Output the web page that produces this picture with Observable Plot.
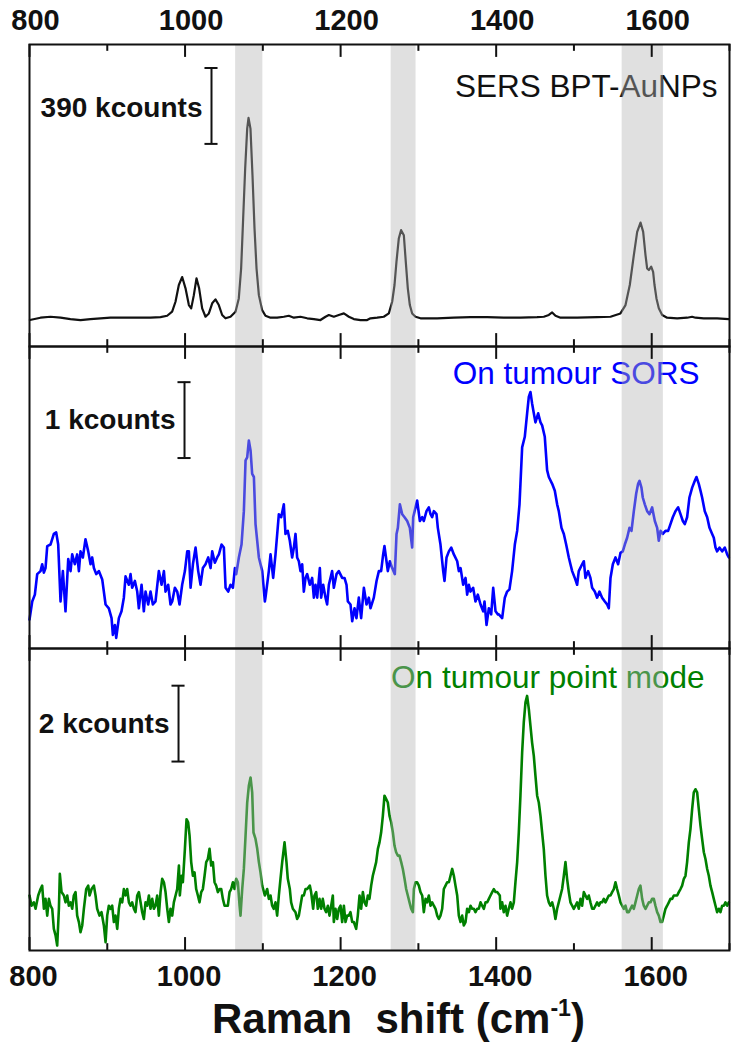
<!DOCTYPE html>
<html>
<head>
<meta charset="utf-8">
<script src="https://cdn.jsdelivr.net/npm/d3@7"></script>
<script src="https://cdn.jsdelivr.net/npm/@observablehq/plot@0.6"></script>
<style>
  body { margin: 0; background: #fff; }
  #chart { width: 739px; }
  #xtitle {
    width: 739px; box-sizing: border-box; padding-left: 58px;
    font-family: "Liberation Sans", Arial, sans-serif; font-weight: bold;
    font-size: 42px; line-height: 46px; height: 50px; text-align: center;
    white-space: pre; color: #111;
  }
  #xtitle .sup { font-size: 0.55em; position: relative; top: -0.75em; }
</style>
</head>
<body>
<div id="chart"></div>
<div id="xtitle">Raman  shift (cm<span class="sup">-1</span>)</div>
<script>
// ---- data ----
const panels = ["SERS BPT-AuNPs", "On tumour SORS", "On tumour point mode"];
const panelColors = ["#111111", "#0000ff", "#008000"];
const scaleBarKcounts = [390, 1, 2];
const bands = [[1065, 1100], [1265, 1297], [1562, 1615]];
const majorTicks = [800, 1000, 1200, 1400, 1600];
const minorTicks = [900, 1100, 1300, 1500, 1700];

// [Raman shift (cm-1), intensity (kcounts, offset)]
const bptSpectrum = [[800.5,136],[814.1,148],[827.0,153],[839.9,148],[852.7,141],[865.6,136],[878.4,141],[891.3,145],[904.1,148],[917.0,148],[929.9,148],[942.7,148],[955.6,148],[968.4,151],[977.0,158],[983.4,179],[987.7,230],[992.0,316],[996.3,357],[1000.6,299],[1004.9,213],[1007.9,196],[1011.3,264],[1014.7,350],[1018.1,299],[1022.0,196],[1026.3,153],[1030.6,170],[1034.9,222],[1039.1,242],[1043.4,213],[1047.7,162],[1052.0,145],[1058.4,153],[1064.9,179],[1069.1,247],[1072.1,401],[1074.7,658],[1077.3,915],[1079.9,1120],[1081.6,1175],[1084.1,1120],[1086.7,880],[1089.3,607],[1091.9,401],[1094.9,264],[1099.1,187],[1103.4,158],[1109.9,148],[1118.4,148],[1127.0,153],[1133.4,158],[1139.9,148],[1148.4,153],[1157.0,145],[1165.6,141],[1174.1,136],[1180.6,153],[1184.9,162],[1191.3,153],[1197.7,162],[1204.2,170],[1210.6,153],[1217.0,141],[1225.6,136],[1234.1,136],[1238.4,145],[1247.0,148],[1255.5,153],[1262.0,170],[1266.3,230],[1269.3,316],[1271.8,435],[1274.8,555],[1277.8,598],[1281.3,572],[1283.8,435],[1286.4,299],[1289.0,213],[1292.0,170],[1296.3,153],[1302.7,145],[1324.1,145],[1345.5,148],[1367.0,151],[1388.4,151],[1409.8,148],[1431.3,148],[1452.7,151],[1461.3,153],[1467.7,162],[1472.0,175],[1476.3,158],[1482.7,148],[1504.1,148],[1529.8,151],[1547.0,153],[1559.8,170],[1566.3,213],[1571.8,316],[1577.0,470],[1581.3,589],[1585.6,637],[1589.0,589],[1592.0,470],[1594.1,401],[1596.3,393],[1599.3,410],[1601.8,384],[1603.6,316],[1606.1,247],[1609.1,196],[1613.4,162],[1619.8,148],[1632.7,145],[1645.5,148],[1651.9,153],[1656.3,148],[1666.9,145],[1684.1,145],[1699.1,141]];

const sorsSpectrum = [[800.0,0.38],[803.5,0.62],[806.9,0.71],[809.9,0.98],[814.2,1.02],[816.3,1.11],[818.5,1.00],[820.6,1.06],[822.8,1.35],[827.0,1.37],[831.3,1.51],[834.3,1.53],[836.9,1.37],[839.9,0.62],[842.9,1.02],[846.3,0.49],[849.8,1.18],[852.8,1.02],[854.9,1.24],[858.3,1.11],[861.3,1.24],[863.5,1.02],[865.6,1.28],[868.6,1.20],[872.0,1.44],[875.5,1.28],[878.5,1.11],[880.6,1.20],[882.8,1.06],[885.8,0.98],[889.2,1.02],[893.5,0.91],[897.8,0.58],[902.0,0.53],[905.5,0.40],[907.2,0.18],[909.8,0.31],[911.5,0.14],[914.9,0.40],[918.3,0.49],[921.3,0.67],[923.5,0.95],[927.7,0.84],[929.9,0.98],[932.0,0.80],[935.5,0.89],[938.5,0.75],[940.6,0.53],[944.1,0.84],[947.0,0.49],[949.2,0.75],[952.6,0.58],[955.6,0.75],[958.6,0.58],[962.0,0.62],[966.3,1.02],[969.8,0.84],[972.8,1.02],[974.9,0.75],[978.3,0.84],[981.3,0.58],[983.5,0.62],[986.9,0.80],[989.9,0.75],[992.9,0.58],[996.3,0.84],[999.8,1.02],[1002.8,1.28],[1004.9,1.28],[1007.1,0.80],[1010.1,1.11],[1013.5,1.33],[1016.9,1.02],[1019.9,0.84],[1022.9,1.06],[1026.3,1.11],[1029.8,1.20],[1032.8,1.06],[1034.9,1.28],[1038.3,1.13],[1041.3,1.20],[1043.5,1.24],[1046.9,1.37],[1049.9,1.33],[1052.1,0.80],[1055.5,0.75],[1058.5,0.84],[1061.5,0.80],[1064.1,1.06],[1065.8,0.98],[1069.2,1.20],[1072.6,1.37],[1075.6,1.81],[1077.8,2.48],[1079.9,2.52],[1082.0,2.74],[1084.2,2.61],[1086.3,2.30],[1088.5,2.26],[1090.6,1.64],[1094.9,1.20],[1099.2,1.02],[1102.6,0.62],
[1103.4,0.67],[1107.7,1.02],[1109.9,1.24],[1113.3,0.93],[1116.3,1.24],[1120.6,1.77],[1123.6,1.73],[1127.0,1.90],[1129.1,1.51],[1132.1,1.55],[1134.7,1.42],[1137.7,1.20],[1139.9,1.33],[1142.0,1.51],[1144.1,1.20],[1146.3,1.15],[1148.4,1.02],[1150.6,1.11],[1152.7,0.75],[1154.9,0.93],[1157.0,0.98],[1160.4,0.84],[1163.4,0.93],[1165.6,0.67],[1167.7,0.84],[1169.9,0.67],[1173.3,1.06],[1175.0,0.67],[1177.6,0.84],[1180.6,0.67],[1182.7,0.58],[1184.9,0.84],[1189.1,1.02],[1191.3,0.80],[1194.7,0.98],[1197.7,1.02],[1202.0,0.93],[1205.0,0.93],[1207.6,0.84],[1209.3,0.62],[1212.7,0.58],[1214.9,0.36],[1217.9,0.53],[1220.4,0.40],[1223.4,0.67],[1226.4,0.40],[1229.9,0.80],[1233.3,0.58],[1236.3,0.67],[1238.4,0.53],[1242.7,0.67],[1246.2,0.89],[1249.2,1.02],[1252.1,1.02],[1254.7,1.24],[1256.4,1.35],[1259.0,1.15],[1260.7,1.02],[1263.3,1.15],[1266.3,1.06],[1269.7,0.98],[1271.9,1.51],[1273.6,1.59],[1276.2,1.90],[1279.2,1.77],[1282.2,1.73],[1285.6,1.68],[1289.0,1.59],[1292.0,1.33],[1293.3,1.73],[1296.3,1.86],[1298.4,1.95],[1301.9,1.68],[1304.9,1.73],[1307.0,1.68],[1310.4,1.81],[1313.4,1.86],[1315.6,1.77],[1317.7,1.73],[1319.9,1.81],[1323.3,1.77],[1325.0,1.59],[1328.4,1.37],[1331.9,1.02],[1333.6,0.89],[1336.2,1.20],[1339.2,1.28],[1342.2,1.33],[1345.6,1.24],[1349.9,1.15],[1352.0,1.02],[1354.2,1.06],[1357.6,0.84],[1360.6,0.93],[1362.7,0.71],[1364.9,0.84],[1367.0,0.75],[1370.4,0.80],[1373.4,0.62],[1376.4,0.71],[1379.9,0.58],[1383.3,0.49],[1385.0,0.62],[1387.6,0.31],[1390.6,0.53],[1393.6,0.45],[1396.2,0.80],[1399.2,0.49],[1402.2,0.45],
[1403.4,0.45],[1407.7,0.40],[1411.1,0.67],[1414.1,0.75],[1417.1,0.78],[1420.5,1.02],[1424.0,1.37],[1427.0,1.55],[1430.0,1.90],[1433.4,2.65],[1436.8,2.79],[1439.8,3.10],[1442.0,3.32],[1444.1,3.38],[1446.2,3.23],[1448.4,3.10],[1450.5,2.98],[1454.0,3.10],[1457.0,2.98],[1459.1,2.94],[1462.5,2.79],[1465.5,2.35],[1467.7,2.26],[1472.0,2.17],[1475.4,2.08],[1478.4,1.90],[1480.5,1.81],[1484.0,1.59],[1487.0,1.51],[1490.0,1.37],[1493.4,1.20],[1495.5,1.11],[1497.7,1.02],[1501.1,0.93],[1504.1,0.84],[1506.2,1.02],[1510.5,1.11],[1512.7,1.15],[1514.8,0.93],[1518.2,1.02],[1521.2,0.93],[1523.4,0.80],[1526.8,0.75],[1529.8,0.67],[1532.8,0.75],[1536.2,0.67],[1539.7,0.62],[1542.7,0.58],[1544.8,0.53],[1547.0,0.93],[1550.0,1.11],[1553.4,1.20],[1556.8,1.11],[1559.8,1.26],[1562.8,1.28],[1565.4,1.37],[1568.4,1.46],[1571.4,1.59],[1574.0,1.55],[1577.0,1.81],[1580.0,2.04],[1582.5,2.17],[1584.3,2.21],[1586.8,2.12],[1588.5,1.99],[1591.1,1.90],[1594.1,1.81],[1597.1,1.77],[1600.5,1.86],[1604.0,1.68],[1607.0,1.59],[1609.1,1.42],[1611.3,1.55],[1614.3,1.51],[1617.7,1.55],[1621.1,1.55],[1624.1,1.64],[1627.1,1.73],[1630.5,1.81],[1634.0,1.86],[1637.0,1.77],[1640.0,1.68],[1642.5,1.64],[1645.5,1.73],[1648.5,1.99],[1652.0,2.12],[1655.4,2.21],[1657.5,2.26],[1660.5,2.17],[1662.7,2.08],[1664.8,1.99],[1668.2,1.81],[1671.3,1.73],[1674.3,1.59],[1677.7,1.51],[1679.8,1.46],[1682.0,1.33],[1684.1,1.28],[1687.1,1.33],[1690.5,1.28],[1694.0,1.33],[1697.0,1.24],[1699.1,1.20]];

const pointSpectrum = [[800.0,1.45],[802.6,1.18],[805.6,1.27],[807.8,1.10],[811.2,1.45],[814.2,1.62],[816.3,1.71],[818.5,1.10],[820.6,1.36],[822.8,0.92],[824.9,1.36],[827.0,1.18],[829.2,1.10],[831.3,0.57],[833.5,0.40],[835.6,0.13],[837.8,1.10],[839.0,2.02],[841.2,1.54],[844.2,1.45],[846.3,1.27],[848.5,1.45],[850.6,1.18],[852.8,1.27],[854.9,1.10],[857.0,1.45],[859.2,1.54],[861.3,0.92],[863.5,0.75],[865.6,0.48],[867.8,0.66],[869.9,1.10],[872.9,1.62],[875.5,1.71],[877.2,1.45],[879.8,1.62],[882.8,1.71],[884.9,1.45],[887.0,1.10],[890.0,0.92],[892.6,1.01],[895.6,0.66],[897.8,0.22],[899.9,0.92],[902.0,1.18],[904.2,1.10],[906.3,1.18],[908.5,0.75],[910.6,0.92],[912.8,0.57],[914.9,1.10],[917.0,1.36],[919.2,1.27],[921.3,1.62],[923.5,1.45],[925.6,1.62],[927.8,1.27],[929.9,1.18],[932.0,1.27],[934.2,1.10],[936.3,1.01],[938.5,1.45],[940.6,1.54],[942.8,1.27],[944.9,1.01],[947.0,0.83],[949.2,1.27],[951.3,1.18],[953.5,1.45],[955.6,1.10],[957.8,1.36],[959.9,1.10],[962.0,1.18],[964.2,1.45],[966.3,0.92],[968.5,1.54],[970.6,1.89],[972.8,1.80],[974.9,1.54],[977.1,1.10],[979.2,0.75],[981.3,1.10],[983.5,0.92],[985.6,1.27],[987.8,1.45],[989.9,1.62],[992.1,2.24],[993.3,1.45],[995.5,1.97],[997.2,1.80],[999.8,2.68],[1001.9,3.46],[1004.0,3.38],[1005.8,3.03],[1007.9,2.33],[1010.1,1.97],[1012.2,2.06],[1014.3,1.62],[1016.5,1.45],[1018.6,1.27],[1020.8,1.54],[1022.9,1.62],[1025.1,1.97],[1027.2,2.33],[1029.3,2.41],[1031.5,2.68],[1033.6,2.24],[1035.8,2.33],[1037.9,1.80],[1040.0,1.71],[1042.2,1.54],[1044.3,1.62],[1046.5,1.62],[1048.6,1.36],[1050.8,1.18],[1052.9,1.18],[1055.0,1.18],[1057.2,1.54],[1059.3,1.62],[1061.5,1.80],[1063.6,1.62],[1065.8,1.89],[1067.9,1.80],[1070.1,1.18],[1071.3,0.92],[1073.5,1.62],[1075.6,2.15],[1077.8,3.03],[1079.9,3.90],[1082.0,4.34],[1084.2,4.56],[1086.3,4.17],[1088.0,3.11],[1090.6,2.94],[1092.8,2.68],[1094.9,2.33],[1097.0,2.06],[1099.2,1.71],[1102.6,1.45],
[1105.6,1.62],[1107.7,1.36],[1109.9,1.45],[1112.0,1.18],[1114.1,1.10],[1116.3,1.27],[1118.4,0.92],[1120.6,1.45],[1122.7,1.89],[1124.9,2.33],[1127.9,2.85],[1130.4,2.33],[1132.1,1.89],[1134.7,1.62],[1136.4,1.27],[1138.6,1.10],[1142.0,1.01],[1144.1,0.83],[1146.3,0.92],[1148.4,1.18],[1150.6,1.45],[1152.7,1.45],[1154.9,1.62],[1157.0,1.62],[1160.4,1.71],[1162.1,1.54],[1164.7,1.10],[1166.4,1.45],[1168.6,1.54],[1170.7,1.10],[1172.9,1.36],[1175.0,1.10],[1177.1,1.36],[1179.3,1.10],[1181.4,1.01],[1183.6,1.18],[1185.7,0.92],[1187.9,1.18],[1190.0,1.45],[1191.3,0.75],[1193.4,1.10],[1195.6,0.83],[1197.7,1.10],[1199.9,1.18],[1202.0,0.75],[1204.2,1.18],[1206.3,0.75],[1208.4,0.92],[1210.6,0.92],[1212.7,1.01],[1214.9,0.75],[1217.0,0.75],[1220.0,0.57],[1222.1,0.92],[1224.3,1.45],[1226.4,1.10],[1228.6,1.54],[1230.7,1.27],[1232.9,1.18],[1235.0,1.45],[1237.1,1.36],[1239.3,1.71],[1241.4,1.97],[1243.6,2.15],[1245.7,2.33],[1247.9,2.68],[1250.0,2.85],[1252.1,3.11],[1254.3,3.55],[1256.4,4.08],[1258.6,3.99],[1260.7,3.90],[1262.9,3.55],[1265.0,3.38],[1267.2,3.11],[1269.3,2.76],[1271.4,2.59],[1273.6,2.50],[1275.7,2.50],[1277.9,2.33],[1280.0,2.15],[1282.2,1.89],[1284.3,1.62],[1286.4,1.45],[1288.6,1.27],[1290.7,1.10],[1292.9,1.01],[1294.2,1.62],[1296.3,1.80],[1298.4,1.80],[1300.6,1.71],[1302.7,1.54],[1304.9,1.45],[1307.0,1.01],[1309.2,1.36],[1311.3,1.27],[1313.4,1.45],[1315.6,1.18],[1317.7,1.27],[1319.9,1.18],[1322.0,1.10],[1324.2,0.92],[1326.3,0.83],[1328.4,0.92],[1330.6,1.10],[1332.7,1.62],[1334.9,1.71],[1337.0,1.80],[1339.2,1.80],[1341.3,1.97],[1343.5,2.15],[1345.6,1.97],[1347.7,1.71],[1349.9,1.45],[1352.0,0.92],[1354.2,0.75],[1356.3,0.92],[1358.4,0.66],[1360.6,0.75],[1362.7,1.10],[1364.9,1.01],[1367.0,1.18],[1369.2,1.10],[1371.3,1.10],[1373.4,1.01],[1375.6,1.10],[1377.7,1.10],[1379.9,1.27],[1382.0,1.18],[1384.2,1.10],[1386.3,1.27],[1388.4,1.27],[1390.6,1.36],[1392.7,1.45],[1394.9,1.54],[1397.0,1.62],[1399.2,1.54],[1401.3,1.54],[1404.7,1.45],
[1405.5,1.10],[1407.7,1.27],[1409.8,1.01],[1412.0,1.18],[1414.1,0.92],[1416.2,1.10],[1418.4,1.27],[1420.5,1.10],[1422.7,1.27],[1424.8,1.80],[1427.0,2.33],[1429.1,3.11],[1431.2,4.08],[1433.4,5.22],[1435.5,6.01],[1437.7,6.54],[1439.8,6.71],[1442.0,6.36],[1444.1,5.92],[1446.2,5.48],[1448.4,5.13],[1450.5,4.61],[1452.7,4.08],[1454.8,3.90],[1457.0,3.55],[1459.1,3.11],[1461.2,2.68],[1463.4,1.97],[1465.5,1.45],[1467.7,1.27],[1469.8,1.18],[1472.0,1.27],[1474.1,1.10],[1476.2,0.83],[1478.4,1.10],[1480.5,1.27],[1482.7,1.45],[1484.8,1.62],[1487.0,1.97],[1489.1,2.33],[1491.2,1.89],[1493.4,1.54],[1495.5,1.27],[1497.7,1.18],[1499.8,1.10],[1502.0,1.18],[1504.1,1.27],[1506.2,1.10],[1508.4,1.36],[1510.5,1.18],[1512.7,1.54],[1514.8,1.45],[1517.0,1.36],[1519.1,1.45],[1521.2,1.27],[1523.4,1.10],[1525.5,1.10],[1527.7,1.18],[1529.8,1.27],[1532.0,1.18],[1534.1,1.27],[1536.2,1.27],[1538.4,1.36],[1540.5,1.27],[1542.7,1.36],[1544.8,1.45],[1547.0,1.45],[1549.1,1.54],[1551.3,1.62],[1553.4,1.80],[1555.5,1.62],[1557.7,1.45],[1559.8,1.27],[1562.0,1.18],[1564.1,1.10],[1566.3,1.18],[1568.4,1.01],[1570.5,1.01],[1572.7,1.10],[1574.8,1.18],[1577.0,1.10],[1579.1,1.27],[1581.3,1.45],[1583.4,1.62],[1585.5,1.71],[1587.7,1.36],[1589.8,1.18],[1592.0,1.10],[1594.1,1.18],[1596.3,1.27],[1598.4,1.27],[1600.5,1.36],[1602.7,1.36],[1604.8,1.18],[1607.0,1.01],[1609.1,0.92],[1611.3,0.75],[1613.4,0.75],[1615.5,0.92],[1617.7,1.10],[1619.8,1.18],[1622.0,1.27],[1624.1,1.36],[1626.3,1.36],[1628.4,1.45],[1630.5,1.45],[1632.7,1.45],[1634.8,1.54],[1637.0,1.62],[1639.1,1.71],[1641.3,1.89],[1643.4,1.97],[1645.5,2.33],[1647.7,2.85],[1649.8,3.20],[1652.0,3.73],[1654.1,4.17],[1656.3,4.25],[1658.4,4.17],[1660.5,3.73],[1662.7,3.29],[1664.8,2.94],[1667.0,2.59],[1669.1,2.41],[1671.3,2.15],[1673.4,1.97],[1675.5,1.71],[1677.7,1.54],[1679.8,1.36],[1682.0,1.18],[1684.1,1.01],[1686.3,1.10],[1688.4,1.01],[1690.5,1.18],[1692.7,1.18],[1694.8,1.27],[1697.0,1.18],[1699.1,1.27]];

// ---- build table: intensity expressed in units of each panel's scale bar ----
const spectra = [bptSpectrum, sorsSpectrum, pointSpectrum];
const lineWidths = [2.2, 2.6, 2.6];
const rows = [];
spectra.forEach((s, i) => s.forEach(([shift, kc]) => rows.push({panel: panels[i], shift, rel: kc / scaleBarKcounts[i]})));

// ---- annotation placement (data units) ----
const yMax = 3.98;
const titleAnno = [
  {panel: panels[0], x: 1684.6, y: 3.29},
  {panel: panels[1], x: 1661.4, y: 3.48},
  {panel: panels[2], x: 1667.9, y: 3.46}
];
const barAnno = [
  {panel: panels[0], x: 1034.0, y0: 2.67, lx: 1022.4, ly: 3.03},
  {panel: panels[1], x: 999.3, y0: 2.51, lx: 987.7, ly: 2.89},
  {panel: panels[2], x: 991.6, y0: 2.49, lx: 980.0, ly: 2.86}
].map((d, i) => ({...d, label: `${scaleBarKcounts[i]} kcounts`}));
const capRows = barAnno.flatMap(d => [{...d, y: d.y0}, {...d, y: d.y0 + 1}]);

const ink = "#111";
const lineMarks = panels.map((p, i) => Plot.line(rows.filter(r => r.panel === p), {x: "shift", y: "rel", fy: "panel", stroke: "panel", strokeWidth: lineWidths[i], strokeLinejoin: "round"}));

const chart = Plot.plot({
  width: 739,
  height: 996,
  marginTop: 43,
  marginBottom: 46,
  marginLeft: 29,
  marginRight: 10,
  style: {fontFamily: '"Liberation Sans", Arial, sans-serif', fontWeight: "bold", fontSize: "29px", color: ink, background: "white"},
  x: {domain: [800, 1700], axis: null},
  y: {domain: [0, yMax], axis: null},
  fy: {domain: panels, axis: null, padding: 0},
  color: {domain: panels, range: panelColors},
  marks: [
    ...lineMarks,
    Plot.text(titleAnno, {x: "x", y: "y", fy: "panel", text: "panel", fill: "panel", textAnchor: "end", lineAnchor: "bottom", fontSize: 31.5, fontWeight: "normal"}),
    Plot.rect(bands, {x1: d => d[0], x2: d => d[1], y1: 0, y2: yMax, fill: "rgb(180,180,180)", fillOpacity: 0.41}),
    Plot.frame({stroke: ink, strokeWidth: 2}),
    Plot.ruleX(majorTicks, {x: d => d, y1: yMax, y2: yMax - 0.17, stroke: ink, strokeWidth: 2}),
    Plot.ruleX(majorTicks, {x: d => d, y1: 0, y2: 0.17, stroke: ink, strokeWidth: 2}),
    Plot.ruleX(minorTicks, {x: d => d, y1: yMax, y2: yMax - 0.09, stroke: ink, strokeWidth: 2}),
    Plot.ruleX(minorTicks, {x: d => d, y1: 0, y2: 0.09, stroke: ink, strokeWidth: 2}),
    Plot.ruleX(barAnno, {x: "x", y1: "y0", y2: d => d.y0 + 1, fy: "panel", stroke: ink, strokeWidth: 2}),
    Plot.ruleY(capRows, {x1: d => d.x - 8.4, x2: d => d.x + 8.4, y: "y", fy: "panel", stroke: ink, strokeWidth: 2}),
    Plot.text(barAnno, {x: "lx", y: "ly", fy: "panel", text: "label", textAnchor: "end", lineAnchor: "bottom", fontSize: 28, fontWeight: "bold", fill: ink}),
    // tick labels: top of first panel, bottom of last panel
    Plot.text(majorTicks, {x: d => d, fy: () => panels[0], frameAnchor: "top", lineAnchor: "bottom", dy: -15, dx: 6, text: d => String(d), fontSize: 29, fontWeight: "bold", fill: ink}),
    Plot.text(majorTicks, {x: d => d, fy: () => panels[2], frameAnchor: "bottom", lineAnchor: "top", dy: 15, dx: 4, text: d => String(d), fontSize: 29, fontWeight: "bold", fill: ink})
  ]
});
document.getElementById("chart").appendChild(chart);
</script>
</body>
</html>
